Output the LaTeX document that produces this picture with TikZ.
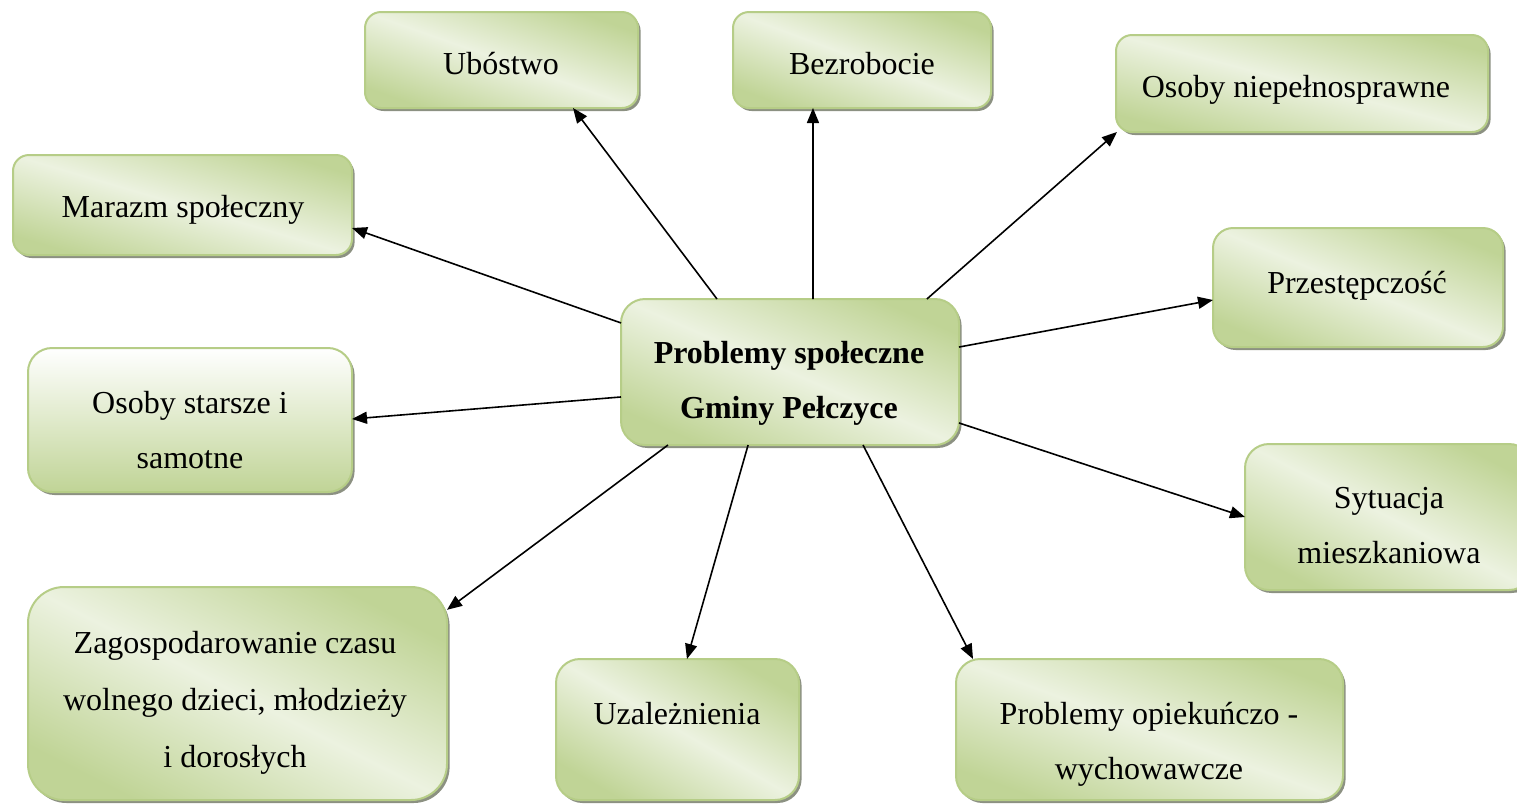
\documentclass[tikz,border=0pt]{standalone}
\usepackage{fontspec}
\setmainfont{Liberation Serif}
\usetikzlibrary{arrows.meta,calc,shadows}
\definecolor{gdark}{RGB}{192,212,150}
\definecolor{glight}{RGB}{236,242,224}
\definecolor{gborder}{RGB}{182,205,135}
\definecolor{gshadow}{RGB}{140,145,130}
\tikzset{
 box/.style={draw=gborder, line width=1pt, inner sep=0pt, outer sep=0pt,
   drop shadow={shadow xshift=1.3pt, shadow yshift=-1.5pt, fill=gshadow, opacity=1}},
 diag/.style={left color=gdark, right color=gdark, middle color=glight},
 vert/.style={top color=white, bottom color=gdark, shading angle=0},
 txt/.style={font=\fontsize{16}{27.5}\selectfont, align=center, inner sep=0pt},
 boldtxt/.style={font=\fontsize{16}{27.5}\selectfont\bfseries, align=center, inner sep=0pt},
 arr/.style={line width=0.8pt, -{Triangle[length=7.5pt,width=6pt]}},
}
\newcommand\mybox[7]{%
 \pgfmathsetmacro\bw{#4-#2}\pgfmathsetmacro\bh{#5-#3}%
 \pgfmathsetmacro\sa{atan2(\bw,\bh)-90}%
 \node[box, rounded corners=#6, minimum width=\bw*0.5pt, minimum height=\bh*0.5pt,
   #7, shading angle=\sa] (#1) at ({(#2+#4)/2},{(#3+#5)/2}) {};}
\newcommand\myvbox[6]{%
 \pgfmathsetmacro\bw{#4-#2}\pgfmathsetmacro\bh{#5-#3}%
 \node[box, rounded corners=#6, minimum width=\bw*0.5pt, minimum height=\bh*0.5pt,
   vert] (#1) at ({(#2+#4)/2},{(#3+#5)/2}) {};}
\begin{document}
\begin{tikzpicture}[x=0.5pt,y=-0.5pt]
\useasboundingbox (0,0) rectangle (1517,805);
\mybox{ub}{365}{12}{638}{108}{8pt}{diag}
\mybox{bz}{733}{12}{991}{108}{8pt}{diag}
\mybox{on}{1116}{35}{1488}{132}{8pt}{diag}
\mybox{mz}{13}{155}{352}{255}{8pt}{diag}
\mybox{pr}{1213}{228}{1503}{347}{10pt}{diag}
\mybox{c}{621}{299}{959}{445}{12pt}{diag}
\myvbox{os}{28}{348}{352}{492}{12pt}
\mybox{sy}{1245}{444}{1533}{590}{12pt}{diag}
\mybox{za}{28}{587}{447}{800}{18pt}{diag}
\mybox{uz}{556}{659}{799}{800}{12pt}{diag}
\mybox{op}{956}{659}{1343}{800}{12pt}{diag}

\draw[arr] ($(c.north west)!0.284!(c.north east)$) -- ($(ub.south west)!0.762!(ub.south east)$);
\draw[arr] ($(c.north west)!0.568!(c.north east)$) -- ($(bz.south west)!0.310!(bz.south east)$);
\draw[arr] ($(c.north west)!0.905!(c.north east)$) -- ($(on.south west)+(1,0)$);
\draw[arr] ($(c.north west)!0.164!(c.south west)$) -- ($(mz.north east)!0.73!(mz.south east)$);
\draw[arr] ($(c.north west)!0.671!(c.south west)$) -- ($(os.north east)!0.493!(os.south east)$);
\draw[arr] ($(c.north east)!0.329!(c.south east)$) -- ($(pr.north west)!0.605!(pr.south west)$);
\draw[arr] ($(c.north east)!0.849!(c.south east)$) -- ($(sy.north west)!0.5!(sy.south west)$);
\draw[arr] ($(c.south west)!0.139!(c.south east)$) -- ($(za.north east)!0.107!(za.south east)$);
\draw[arr] ($(c.south west)!0.376!(c.south east)$) -- ($(uz.north west)!0.539!(uz.north east)$);
\draw[arr] ($(c.south west)!0.716!(c.south east)$) -- ($(op.north west)!0.044!(op.north east)$);

\node[txt] (ub-t) at (501,64) {Ubóstwo};
\node[txt] (bz-t) at (862,64) {Bezrobocie};
\node[txt] (on-t) at (1296,90) {Osoby niepełnosprawne};
\node[txt] (mz-t) at (183,210) {Marazm społeczny};
\node[txt] (pr-t) at (1357,286) {Przestępczość};
\node[boldtxt] (c-t) at (789,383) {Problemy społeczne\\Gminy Pełczyce};
\node[txt] (os-t) at (190,430) {Osoby starsze i\\samotne};
\node[txt] (sy-t) at (1389,526) {Sytuacja\\mieszkaniowa};
\node[txt, font=\fontsize{16}{28.5}\selectfont] (za-t) at (235,703) {Zagospodarowanie czasu\\wolnego dzieci, młodzieży\\i dorosłych};
\node[txt] (uz-t) at (677,714) {Uzależnienia};
\node[txt] (op-t) at (1149,744) {Problemy opiekuńczo -\\wychowawcze};
\end{tikzpicture}
\end{document}
